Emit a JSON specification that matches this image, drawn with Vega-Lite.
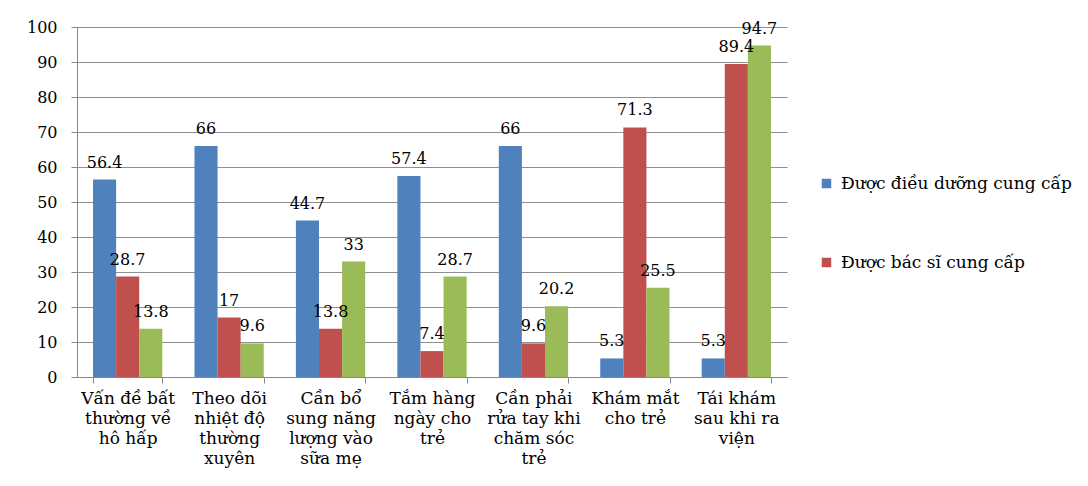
{
  "$schema": "https://vega.github.io/schema/vega-lite/v6.json",
  "width": 710,
  "height": 350,
  "autosize": "none",
  "padding": {"left": 77, "top": 27, "right": 301, "bottom": 109},
  "background": "white",
  "config": {
    "view": {"stroke": null},
    "font": "DejaVu Serif"
  },
  "data": {
    "values": [
      {"cat": "Vấn đề bất\nthường về\nhô hấp", "series": "Được điều dưỡng cung cấp", "value": 56.4},
      {"cat": "Vấn đề bất\nthường về\nhô hấp", "series": "Được bác sĩ cung cấp", "value": 28.7},
      {"cat": "Vấn đề bất\nthường về\nhô hấp", "series": "Khác", "value": 13.8},
      {"cat": "Theo dõi\nnhiệt độ\nthường\nxuyên", "series": "Được điều dưỡng cung cấp", "value": 66},
      {"cat": "Theo dõi\nnhiệt độ\nthường\nxuyên", "series": "Được bác sĩ cung cấp", "value": 17},
      {"cat": "Theo dõi\nnhiệt độ\nthường\nxuyên", "series": "Khác", "value": 9.6},
      {"cat": "Cần bổ\nsung năng\nlượng vào\nsữa mẹ", "series": "Được điều dưỡng cung cấp", "value": 44.7},
      {"cat": "Cần bổ\nsung năng\nlượng vào\nsữa mẹ", "series": "Được bác sĩ cung cấp", "value": 13.8},
      {"cat": "Cần bổ\nsung năng\nlượng vào\nsữa mẹ", "series": "Khác", "value": 33},
      {"cat": "Tắm hàng\nngày cho\ntrẻ", "series": "Được điều dưỡng cung cấp", "value": 57.4},
      {"cat": "Tắm hàng\nngày cho\ntrẻ", "series": "Được bác sĩ cung cấp", "value": 7.4},
      {"cat": "Tắm hàng\nngày cho\ntrẻ", "series": "Khác", "value": 28.7},
      {"cat": "Cần phải\nrửa tay khi\nchăm sóc\ntrẻ", "series": "Được điều dưỡng cung cấp", "value": 66},
      {"cat": "Cần phải\nrửa tay khi\nchăm sóc\ntrẻ", "series": "Được bác sĩ cung cấp", "value": 9.6},
      {"cat": "Cần phải\nrửa tay khi\nchăm sóc\ntrẻ", "series": "Khác", "value": 20.2},
      {"cat": "Khám mắt\ncho trẻ", "series": "Được điều dưỡng cung cấp", "value": 5.3},
      {"cat": "Khám mắt\ncho trẻ", "series": "Được bác sĩ cung cấp", "value": 71.3},
      {"cat": "Khám mắt\ncho trẻ", "series": "Khác", "value": 25.5},
      {"cat": "Tái khám\nsau khi ra\nviện", "series": "Được điều dưỡng cung cấp", "value": 5.3},
      {"cat": "Tái khám\nsau khi ra\nviện", "series": "Được bác sĩ cung cấp", "value": 89.4},
      {"cat": "Tái khám\nsau khi ra\nviện", "series": "Khác", "value": 94.7}
    ]
  },
  "encoding": {
    "x": {
      "field": "cat",
      "type": "nominal",
      "sort": null,
      "title": null,
      "scale": {"paddingInner": 0.317, "paddingOuter": 0.158},
      "axis": {
        "labelExpr": "split(datum.label, '\\n')",
        "labelAngle": 0,
        "labelFont": "DejaVu Serif",
        "labelFontSize": 17,
        "labelColor": "black",
        "labelLineHeight": 20,
        "labelBaseline": "top",
        "labelPadding": 7,
        "tickBand": "extent",
        "tickSize": 6,
        "tickColor": "#888888",
        "domainColor": "#888888",
        "grid": false
      }
    },
    "xOffset": {
      "field": "series",
      "type": "nominal",
      "sort": ["Được điều dưỡng cung cấp", "Được bác sĩ cung cấp", "Khác"]
    },
    "y": {
      "field": "value",
      "type": "quantitative",
      "title": null,
      "scale": {"domain": [0, 100], "nice": false},
      "axis": {
        "values": [0, 10, 20, 30, 40, 50, 60, 70, 80, 90, 100],
        "labelFont": "DejaVu Serif",
        "labelFontSize": 16,
        "labelColor": "black",
        "labelPadding": 14,
        "tickSize": 6,
        "tickColor": "#888888",
        "domainColor": "#888888",
        "gridColor": "#8f8f8f",
        "grid": true
      }
    }
  },
  "layer": [
    {
      "mark": {"type": "bar"},
      "encoding": {
        "color": {
          "field": "series",
          "type": "nominal",
          "scale": {
            "domain": ["Được điều dưỡng cung cấp", "Được bác sĩ cung cấp", "Khác"],
            "range": ["#4F81BD", "#C0504D", "#9BBB59"]
          },
          "legend": {
            "values": ["Được điều dưỡng cung cấp", "Được bác sĩ cung cấp"],
            "title": null,
            "orient": "none",
            "legendX": 741,
            "legendY": 148,
            "direction": "vertical",
            "symbolType": "square",
            "symbolSize": 90,
            "symbolStrokeWidth": 0,
            "labelFont": "DejaVu Serif",
            "labelFontSize": 17,
            "labelColor": "black",
            "labelOffset": 6,
            "rowPadding": 61,
            "labelLimit": 400
          }
        }
      }
    },
    {
      "mark": {"type": "text", "baseline": "middle", "align": "center", "dy": -17, "font": "DejaVu Serif", "fontSize": 16, "color": "black"},
      "encoding": {
        "text": {"field": "value", "type": "quantitative"}
      }
    }
  ]
}
